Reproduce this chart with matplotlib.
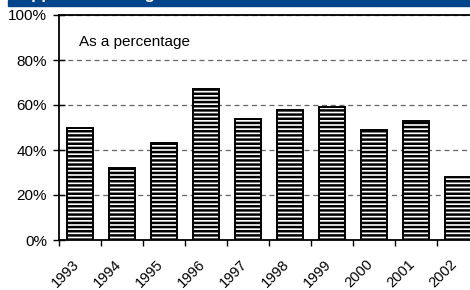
import matplotlib
matplotlib.use("Agg")
import matplotlib.pyplot as plt
from matplotlib.patches import Rectangle
import numpy as np

years = ["1993", "1994", "1995", "1996", "1997", "1998", "1999", "2000", "2001", "2002"]
values = [50, 32, 43, 67, 54, 58, 59, 49, 53, 28]
y_ticks = [0, 20, 40, 60, 80, 100]
y_tick_labels = ["0%", "20%", "40%", "60%", "80%", "100%"]
note = "As a percentage"
title = "Support for enlargement"

plt.rcParams['font.family'] = ['Liberation Sans', 'DejaVu Sans']
plt.rcParams['hatch.linewidth'] = 1.8
plt.rcParams['hatch.color'] = 'black'

W, H = 470, 290
fig = plt.figure(figsize=(W / 100, H / 100), dpi=100)

# title band
band_h = 6
fig.patches.append(Rectangle((8 / W, 1 - band_h / H), 1, band_h / H,
                             transform=fig.transFigure, color='#00448C', zorder=0))
fig.text(10 / W, 1 + 0.5 / H, title, color='white', fontsize=12, fontweight='bold',
         ha='left', va='baseline')

left, right = 59, 479
bottom, top = 240, 15
ax = fig.add_axes([left / W, 1 - bottom / H, (right - left) / W, (bottom - top) / H])

x = np.arange(len(years))
ax.bar(x, values, width=0.6, facecolor='white', edgecolor='black', linewidth=1.4,
       hatch='----', zorder=3)

ax.set_xlim(-0.5, len(years) - 0.5)
ax.set_ylim(0, 100)
ax.set_yticks(y_ticks)
ax.set_yticklabels(y_tick_labels, fontsize=11)
ax.yaxis.grid(True, linestyle=(0, (4, 3)), color='#666666', linewidth=0.9)
ax.set_axisbelow(True)

ax.set_xticks(np.arange(len(years)) - 0.5)
ax.set_xticklabels([])
ax.tick_params(axis='x', direction='out', length=4, width=1, color='black')
ax.tick_params(axis='y', direction='inout', length=8, width=1, color='black', pad=4.5)

for xi, lab in zip(x, years):
    ax.text(xi - 0.2, -7.5, lab, rotation=45, ha='right', va='top',
            rotation_mode='anchor', fontsize=10.5,
            transform=ax.transData, clip_on=False)

for s in ['left', 'bottom', 'top', 'right']:
    ax.spines[s].set_linewidth(1.3)
    ax.spines[s].set_color('black')

ax.text(20 / (right - left), 1 - (42 - top) / (bottom - top), note,
        transform=ax.transAxes, ha='left', va='center', fontsize=11)

fig.savefig("out.png", dpi=100)
